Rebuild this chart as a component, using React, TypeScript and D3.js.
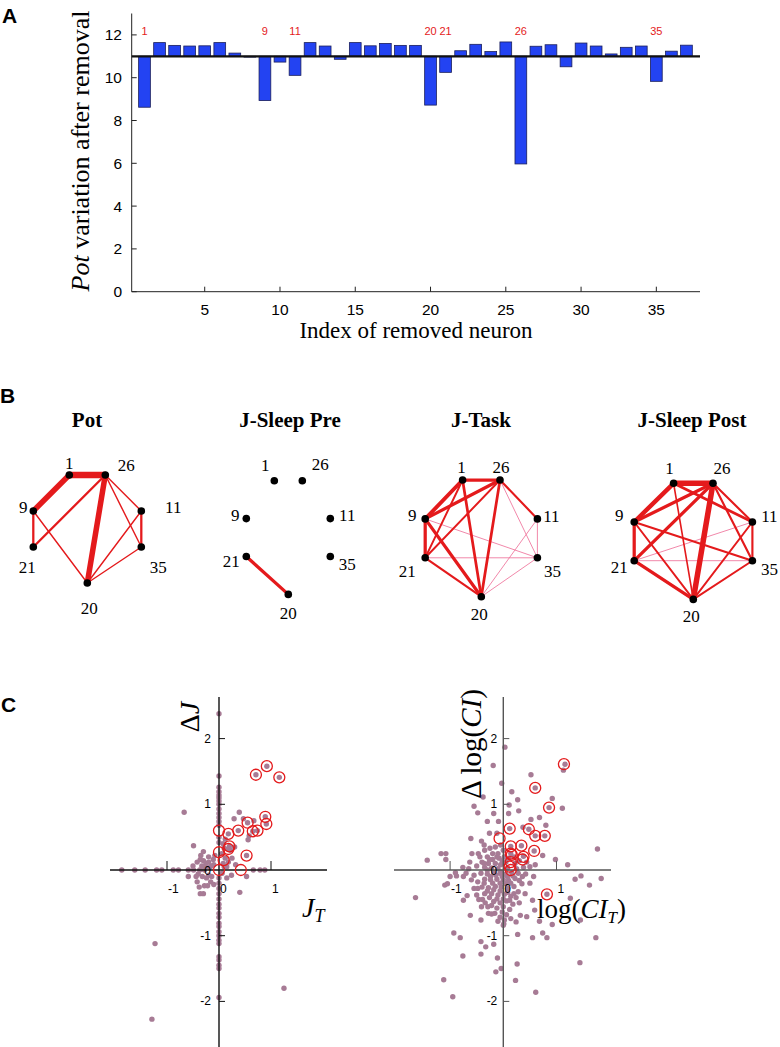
import React from "react";
import * as d3 from "d3";

// ---------------- DATA ----------------
// Panel A
const NEURON_INDEX = [1,2,3,4,5,6,7,8,9,10,11,12,13,14,15,16,17,18,19,20,21,22,23,24,25,26,27,28,29,30,31,32,33,34,35,36,37];
const POT_AFTER_REMOVAL = [8.62,11.64,11.51,11.48,11.49,11.64,11.15,11.0,8.93,10.73,10.11,11.64,11.48,10.86,11.64,11.49,11.6,11.51,11.51,8.72,10.25,11.26,11.56,11.22,11.67,5.97,11.47,11.54,10.51,11.62,11.48,11.11,11.42,11.48,9.83,11.24,11.52];
const POT_BASELINE = 11;
const HIGHLIGHTED = [1,9,11,20,21,26,35];
const A_Y_TICKS = [0,2,4,6,8,10,12];
const A_X_TICKS = [5,10,15,20,25,30,35];

// Panel B
const NODES = ["1","26","11","35","20","21","9"];
const POT_EDGES: [string,string,number][] = [
  ["1","26",1.0],["1","9",0.85],["26","20",0.85],["26","21",0.35],["9","21",0.35],["11","35",0.35],
  ["26","11",0.22],["26","35",0.22],["9","20",0.22],["11","20",0.22],["35","20",0.22]
];
const PRE_EDGES: [string,string,number][] = [["21","20",0.5]];
const TASK_EDGES: [string,string,number][] = [
  ["1","26",0.5],["1","9",0.6],["1","21",0.3],["1","20",0.42],["26","9",0.5],["26","21",0.3],
  ["26","20",0.42],["26","11",0.33],["9","21",0.5],["9","20",0.5],["21","20",0.33],
  ["26","35",0.12],["9","35",0.12],["21","35",0.12],["11","35",0.12],["11","20",0.12],["35","20",0.12]
];
const POST_EDGES: [string,string,number][] = [
  ["1","26",0.85],["1","9",0.68],["26","20",0.85],["26","9",0.5],["26","21",0.5],["9","21",0.5],
  ["21","20",0.5],["1","11",0.42],["26","11",0.33],["26","35",0.33],["1","20",0.25],["9","20",0.3],
  ["9","35",0.33],["11","35",0.33],["11","20",0.3],["35","20",0.3],["21","11",0.12],["21","35",0.12]
];

// Panel C left: (J_T, ΔJ)
const LEFT_DOTS: [number,number][] = [
  [-1.87,0],[-1.62,0],[-1.42,0],[-1.2,0],[-1.1,0],[-0.88,0],[-0.78,0],[-0.59,0],[-0.49,0],[-0.37,0],[-0.28,0],[0.66,0],[0.79,0],[0.88,0],
  [0,2.38],[0,1.43],[0,1.26],[0,1.19],[0,1.14],[0,1.1],[0,1.05],[0,1.0],[0,0.93],[0,0.86],[0,0.8],[0,0.74],[0,0.68],[0,0.5],[0,0.42],
  [0,-0.12],[0,-0.2],[0,-0.28],[0,-0.36],[0,-0.44],[0,-0.52],[0,-0.58],[0,-0.66],[0,-0.72],[0,-0.81],[0,-0.86],[0,-0.94],[0,-1.0],[0,-1.07],[0,-1.12],[0,-1.32],[0,-1.37],[0,-1.45],[0,-1.5],[0,-1.94],
  [-0.67,0.88],[0.39,0.88],[0.29,0.78],[0.47,0.78],[0.67,0.75],[0.56,0.46],[0.58,0.52],[-0.49,0.37],[-0.35,0.22],[-0.36,0.16],
  [-0.3,0.14],[-0.42,0.12],[-0.25,0.1],[-0.2,0.12],[-0.5,0.06],[-0.11,0.16],[-0.15,0.06],[-0.08,0.22],[0.12,0.47],[0.08,0.4],
  [0.1,0.33],[0.12,0.18],[0.18,0.12],[0.22,0.3],[0.3,0.35],[-0.59,-0.1],[-0.4,-0.06],[-0.32,-0.1],[-0.2,-0.08],[-0.42,-0.18],
  [-0.28,-0.24],[-0.36,-0.36],[-0.3,-0.36],[-0.22,-0.24],[-0.14,-0.1],[0.24,-0.08],[0.4,-0.34],[0.53,-0.1],[-1.23,-1.12],
  [-1.29,-2.27],[1.25,-1.8],[0.06,-0.05],[0.1,0.05],[0.15,-0.12],
  [-0.26,0.04],[-0.18,0.04],[-0.1,0.08],[-0.33,0.06],[-0.44,-0.1],[-0.24,-0.12],[-0.16,-0.18],[-0.38,-0.26],[-0.1,-0.22],
  [-0.3,0.28],[-0.2,0.2],[0.08,0.1],[0.05,0.25],[0.15,0.05],[0.25,0.18],[0.32,0.08],
  [0.92,1.58],[0.71,1.45],[1.16,1.41],[0.89,0.81],[0.91,0.7],[0.55,0.72],[0.65,0.59],[0.74,0.6],[0.37,0.6],[0.18,0.55],
  [0.2,0.36],[0.18,0.32],[0.53,0.22]
];
const LEFT_CIRCLES: [number,number][] = [
  [0.92,1.58],[0.71,1.45],[1.16,1.41],[0.89,0.81],[0.91,0.7],[0.55,0.72],[0.65,0.59],[0.74,0.6],[0.37,0.6],
  [0.18,0.55],[0.0,0.6],[0.2,0.36],[0.18,0.32],[0.0,0.27],[0.53,0.22],[0.09,0.15],[0.0,0.0],[0.42,0.0]
];

// Panel C right: (log CI_T, Δlog CI)
const RIGHT_DOTS: [number,number][] = [
  [0.03,1.87],[-0.19,1.59],[0.52,1.45],[1.16,1.61],[1.13,1.52],[0.6,1.25],[-0.03,1.32],[0.16,1.19],[0.27,1.07],[-0.38,1.11],
  [0.92,1.09],[0.86,0.95],[1.11,0.94],[-0.55,0.97],[-0.48,0.87],[-0.18,0.86],[0.11,0.99],[0.1,0.86],[0.29,0.9],[-0.3,0.74],
  [-0.09,0.74],[0.12,0.63],[0.48,0.62],[0.6,0.52],[0.78,0.52],[0.68,0.8],[0.52,0.77],[0.8,0.68],[0.37,0.65],[-0.26,0.56],
  [-0.12,0.56],[-0.61,0.48],[-0.41,0.44],[-0.36,0.38],[0.34,0.37],[0.14,0.36],[0.14,0.25],[0.38,0.21],[0.58,0.29],[1.77,0.32],
  [1.21,0.08],[0.98,0.16],[0.74,0.22],[-1.43,0.15],[-1.17,0.25],[-1.08,0.25],[-1.08,0.16],[-0.59,0.25],[-0.47,0.25],[-0.63,0.12],
  [-0.76,0.04],[-0.9,-0.04],[0.82,-0.37],
  [-0.35,0.3],[-0.25,0.33],[-0.15,0.35],[-0.05,0.38],[-0.2,0.25],[-0.1,0.25],[0.0,0.3],[-0.3,0.2],[-0.2,0.16],[-0.08,0.18],
  [0.02,0.2],[-0.4,0.12],[-0.28,0.1],[-0.15,0.1],[-0.05,0.08],[0.05,0.12],[0.22,0.1],[0.3,0.14],[0.44,0.12],[0.5,0.05],
  [-0.5,0.06],[-0.35,0.04],[-0.22,0.03],[-0.1,0.02],[0.08,0.03],[0.25,0.02],[0.38,0.04],[0.6,0.08],[-0.65,0.02],
  [-0.7,-0.05],[-0.55,-0.08],[-0.42,-0.05],[-0.3,-0.06],[-0.18,-0.04],[-0.06,-0.05],[0.05,-0.06],[0.16,-0.04],[0.28,-0.05],[0.42,-0.06],
  [-0.6,-0.15],[-0.48,-0.18],[-0.35,-0.14],[-0.24,-0.15],[-0.12,-0.14],[0.0,-0.15],[0.1,-0.16],[0.22,-0.13],[0.35,-0.21],[0.5,-0.2],
  [0.57,-0.1],[-0.68,-0.39],[-0.55,-0.28],[-0.4,-0.26],[-0.28,-0.27],[-0.15,-0.25],[-0.04,-0.26],[0.08,-0.28],[0.2,-0.25],[0.41,-0.36],
  [0.55,-0.46],[-0.5,-0.38],[-0.35,-0.36],[-0.22,-0.36],[-0.1,-0.38],[0.02,-0.37],[0.14,-0.4],[0.28,-0.33],[-0.46,-0.45],[-0.39,-0.45],
  [-0.29,-0.56],[-0.18,-0.48],[-0.06,-0.5],[0.06,-0.47],[0.18,-0.52],[0.3,-0.5],[-0.41,-0.56],[-0.22,-0.67],[-0.02,-0.64],[0.02,-0.76],
  [0.01,-0.82],[0.14,-0.74],[0.24,-0.79],[0.32,-0.69],[-0.28,-0.66],[-0.06,-0.72],[0.0,-0.84],[0.44,-0.71],[0.59,-0.61],[0.68,-0.78],
  [0.92,-0.83],[0.74,-0.96],[0.82,-1.03],[0.55,-1.03],[0.27,-0.98],
  [-0.3,0.0],[-0.24,-0.1],[-0.14,-0.08],[-0.02,-0.1],[0.08,-0.1],[0.18,-0.09],[-0.36,-0.2],[-0.2,-0.2],[-0.06,-0.2],[0.04,-0.21],
  [0.14,-0.2],[0.3,-0.16],[-0.3,-0.32],[-0.18,-0.3],[-0.06,-0.32],[0.08,-0.34],[0.2,-0.36],[-0.26,-0.42],[-0.12,-0.44],[0.0,-0.44],
  [0.12,-0.46],[0.24,-0.42],[-0.34,-0.5],[-0.22,-0.54],[-0.12,-0.58],[0.0,-0.56],[0.12,-0.6],[-0.16,-0.66],[0.06,-0.68],[-0.1,-0.78],
  [-0.26,0.16],[-0.12,0.2],[-0.02,0.14],[0.1,0.18],[-0.44,0.2],[-0.36,0.1],[-0.05,-0.03],[0.2,0.2],[-0.48,-0.28],[0.36,-0.1],
  [-1.65,-0.42],[-1.1,-0.23],[-1.0,-0.1],[-0.88,-0.09],[-0.75,-0.1],[-0.75,-0.46],[-0.42,-0.76],[-0.62,-0.69],[-0.93,-0.96],[-0.81,-1.03],
  [-0.76,-1.31],[-0.42,-1.09],[-0.33,-1.17],[-0.42,-1.28],[-0.18,-1.13],[-0.11,-1.34],[-0.14,-1.55],[-0.04,-1.5],[0.26,-1.43],[0.23,-1.68],
  [0.61,-1.86],[-1.12,-1.67],[-0.95,-1.93],[1.44,-1.41],[1.74,-1.03],[1.62,-0.23],[1.84,-0.13],[1.35,-0.14],[1.46,-0.09],[1.26,-0.43],
  [1.45,-0.76],[-1.05,-0.21]
];
const RIGHT_CIRCLES: [number,number][] = [
  [1.14,1.61],[0.6,1.25],[0.86,0.95],[0.12,0.63],[0.48,0.62],[0.6,0.52],[0.78,0.52],[-0.07,0.48],[0.34,0.37],[0.14,0.36],
  [0.14,0.25],[0.16,0.23],[0.38,0.2],[0.36,0.16],[0.58,0.29],[0.14,0.12],[0.12,0.05],[0.14,0.0],[0.82,-0.37]
];
const C_TICKS = [-2,-1,0,1,2];

// ---------------- LAYOUT / STYLE ----------------
const SANS = "'Liberation Sans', Arial, Helvetica, sans-serif";
const SERIF = "'Liberation Serif', 'Times New Roman', Times, serif";
const BAR_FILL = "#2343f2";
const RED = "#e41a1c";
const PINK = "#ef7aa0";
const DOT = "#a77b95";

const NODE_GRID: Record<string,[number,number]> = {
  "1": [-1,0], "26": [1,0], "11": [3,1], "35": [3,2], "20": [0,3], "21": [-3,2], "9": [-3,1]
};

type Net = { title: string; edges: [string,string,number][]; cx: number; top: number; hx: number; vy: number; lab: Record<string,[number,number]>; };
const NETS: Net[] = [
  { title: "Pot", edges: POT_EDGES, cx: 87.3, top: 475, hx: 18, vy: 36,
    lab: { "1":[0,-12], "26":[21,-10], "11":[32,-4], "35":[17,20], "20":[2,25], "21":[-6,20], "9":[-10,-4] } },
  { title: "J-Sleep Pre", edges: PRE_EDGES, cx: 288.3, top: 480.7, hx: 14, vy: 37.9,
    lab: { "1":[-9,-15], "26":[18,-16], "11":[17,-3], "35":[17,8], "20":[0,19], "21":[-15,5], "9":[-11,-3] } },
  { title: "J-Task", edges: TASK_EDGES, cx: 481.3, top: 480, hx: 18.7, vy: 38.9,
    lab: { "1":[-1,-13], "26":[1,-13], "11":[14,-2], "35":[15,14], "20":[-2,18], "21":[-18,14], "9":[-13,-3] } },
  { title: "J-Sleep Post", edges: POST_EDGES, cx: 693.3, top: 483.3, hx: 19.7, vy: 38.7,
    lab: { "1":[-4,-15], "26":[9,-15], "11":[17,-6], "35":[17,9], "20":[-2,17], "21":[-15,7], "9":[-15,-7] } },
];
const NET_TITLE_X = [87, 290, 481, 692];

function Network({ net, titleX }: { net: Net; titleX: number }) {
  const px = (n: string) => net.cx + NODE_GRID[n][0] * net.hx;
  const py = (n: string) => net.top + NODE_GRID[n][1] * net.vy;
  const width = d3.scaleLinear().domain([0, 1]).range([0, 6.5]);
  const sorted = [...net.edges].sort((a, b) => a[2] - b[2]);
  return (
    <g>
      <text x={titleX} y={427} textAnchor="middle" fontFamily={SERIF} fontWeight="bold" fontSize={21}>{net.title}</text>
      {sorted.map(([a, b, w], i) => (
        <line key={i} x1={px(a)} y1={py(a)} x2={px(b)} y2={py(b)}
          stroke={w < 0.2 ? PINK : RED} strokeWidth={Math.max(0.9, width(w))} strokeLinecap="round" />
      ))}
      {NODES.map((n) => (
        <circle key={n} cx={px(n)} cy={py(n)} r={3.8} fill="#000" />
      ))}
      {NODES.map((n) => (
        <text key={"l" + n} x={px(n) + net.lab[n][0]} y={py(n) + net.lab[n][1]} textAnchor="middle"
          dominantBaseline="central" fontFamily={SERIF} fontSize={17}>{n}</text>
      ))}
    </g>
  );
}

function Scatter({ dots, circles, xAxisX, xRange, yAxisTop, yAxisBottom, kx, yLabel, xLabel, axisColor, yLabOff }: any) {
  const x0 = xAxisX;
  const y0 = 870;
  const x = d3.scaleLinear().domain([0, 1]).range([x0, x0 + kx]);
  const y = d3.scaleLinear().domain([0, 1]).range([y0, y0 - 65.7]);
  return (
    <g>
      {dots.map((d: [number,number], i: number) => (
        <circle key={i} cx={x(d[0])} cy={y(d[1])} r={2.7} fill={DOT} />
      ))}
      <line x1={xRange[0]} x2={xRange[1]} y1={y0} y2={y0} stroke={axisColor} strokeWidth={1.4} />
      <line x1={x0} x2={x0} y1={yAxisTop} y2={yAxisBottom} stroke={axisColor} strokeWidth={1.4} />
      {C_TICKS.filter((t) => t !== 0).map((t) => (
        <g key={"y" + t}>
          <line x1={x0} x2={x0 + 6} y1={y(t)} y2={y(t)} stroke={axisColor} strokeWidth={1} />
          <text x={x0 - yLabOff} y={y(t) + 4} textAnchor="end" fontFamily={SANS} fontSize={12}>{t}</text>
        </g>
      ))}
      {[-1, 1].map((t) => (
        <g key={"x" + t}>
          <line x1={x(t)} x2={x(t)} y1={y0} y2={y0 - 9} stroke={axisColor} strokeWidth={1} />
          <text x={x(t) + 1} y={893} textAnchor="start" fontFamily={SANS} fontSize={12}>{t}</text>
        </g>
      ))}
      <text x={x0 + 1} y={893} textAnchor="start" fontFamily={SANS} fontSize={12}>0</text>
      <text x={x0 - yLabOff} y={875} textAnchor="end" fontFamily={SANS} fontSize={12}>0</text>
      {circles.map((d: [number,number], i: number) => (
        <circle key={"c" + i} cx={x(d[0])} cy={y(d[1])} r={5.5} fill="none" stroke={RED} strokeWidth={1.3} />
      ))}
      {yLabel}
      {xLabel}
    </g>
  );
}

export default function App() {
  // Panel A scales
  const xA = d3.scaleLinear().domain([0.15, 37.9]).range([131.7, 700]);
  const yA = d3.scaleLinear().domain([0, 13]).range([291.7, 13.5]);
  const bw = (xA(2) - xA(1)) * 0.78;

  return (
    <svg width={780} height={1047} viewBox="0 0 780 1047"
      style={{ position: "absolute", left: 0, top: 0, background: "#fff" }}>
      <rect x={0} y={0} width={780} height={1047} fill="#fff" />
      {/* ---- Panel A ---- */}
      <text x={2} y={23} fontFamily={SANS} fontWeight="bold" fontSize={21}>A</text>
      {NEURON_INDEX.map((idx, i) => {
        const v = POT_AFTER_REMOVAL[i];
        const top = yA(Math.max(v, POT_BASELINE));
        const bot = yA(Math.min(v, POT_BASELINE));
        return (
          <rect key={idx} x={xA(idx) - bw / 2} y={top} width={bw} height={Math.max(0.8, bot - top)}
            fill={BAR_FILL} stroke="#1b1f5a" strokeWidth={0.8} />
        );
      })}
      <line x1={xA.range()[0]} x2={xA.range()[1]} y1={yA(POT_BASELINE)} y2={yA(POT_BASELINE)} stroke="#111" strokeWidth={2.2} />
      {HIGHLIGHTED.map((h) => (
        <text key={"h" + h} x={xA(h)} y={35} textAnchor="middle" fontFamily={SANS} fontSize={11} fill={RED}>{h}</text>
      ))}
      <line x1={xA.range()[0]} x2={xA.range()[0]} y1={yA(13)} y2={yA(0)} stroke="#222" strokeWidth={1} />
      <line x1={xA.range()[0]} x2={xA.range()[1]} y1={yA(0)} y2={yA(0)} stroke="#222" strokeWidth={1} />
      {A_Y_TICKS.map((t) => (
        <g key={"ay" + t}>
          <line x1={xA.range()[0]} x2={xA.range()[0] + 5} y1={yA(t)} y2={yA(t)} stroke="#222" />
          <text x={122} y={yA(t) + 5.5} textAnchor="end" fontFamily={SANS} fontSize={15.5}>{t}</text>
        </g>
      ))}
      {A_X_TICKS.map((t) => (
        <g key={"ax" + t}>
          <line x1={xA(t)} x2={xA(t)} y1={yA(0)} y2={yA(0) - 5} stroke="#222" />
          <text x={xA(t)} y={315} textAnchor="middle" fontFamily={SANS} fontSize={15.5}>{t}</text>
        </g>
      ))}
      <text transform="translate(89,151) rotate(-90)" textAnchor="middle" fontFamily={SERIF} fontSize={26}>
        <tspan fontStyle="italic">Pot</tspan> variation after removal
      </text>
      <text x={416} y={338} textAnchor="middle" fontFamily={SERIF} fontSize={23}>Index of removed neuron</text>

      {/* ---- Panel B ---- */}
      <text x={0} y={403} fontFamily={SANS} fontWeight="bold" fontSize={21}>B</text>
      {NETS.map((n, i) => <Network key={n.title} net={n} titleX={NET_TITLE_X[i]} />)}

      {/* ---- Panel C ---- */}
      <text x={1} y={712} fontFamily={SANS} fontWeight="bold" fontSize={21}>C</text>
      <Scatter dots={LEFT_DOTS} circles={LEFT_CIRCLES} xAxisX={219} xRange={[110, 327]} yAxisTop={697} yAxisBottom={1047}
        kx={52} axisColor="#111" yLabOff={8}
        yLabel={<text transform="translate(199,717) rotate(-90)" textAnchor="middle" fontFamily={SERIF} fontSize={28}>Δ<tspan fontStyle="italic">J</tspan></text>}
        xLabel={<text x={302} y={917} fontFamily={SERIF} fontSize={28}><tspan fontStyle="italic">J</tspan><tspan fontStyle="italic" fontSize={18} dy={5}>T</tspan></text>}
      />
      <Scatter dots={RIGHT_DOTS} circles={RIGHT_CIRCLES} xAxisX={503.3} xRange={[394, 611]} yAxisTop={697} yAxisBottom={1047}
        kx={53.2} axisColor="#555" yLabOff={6}
        yLabel={<text transform="translate(481,744) rotate(-90)" textAnchor="middle" fontFamily={SERIF} fontSize={29}>Δ log(<tspan fontStyle="italic">CI</tspan>)</text>}
        xLabel={<text x={537} y={918} fontFamily={SERIF} fontSize={27}>log(<tspan fontStyle="italic">CI</tspan><tspan fontStyle="italic" fontSize={17} dy={5}>T</tspan><tspan dy={-5}>)</tspan></text>}
      />
    </svg>
  );
}
